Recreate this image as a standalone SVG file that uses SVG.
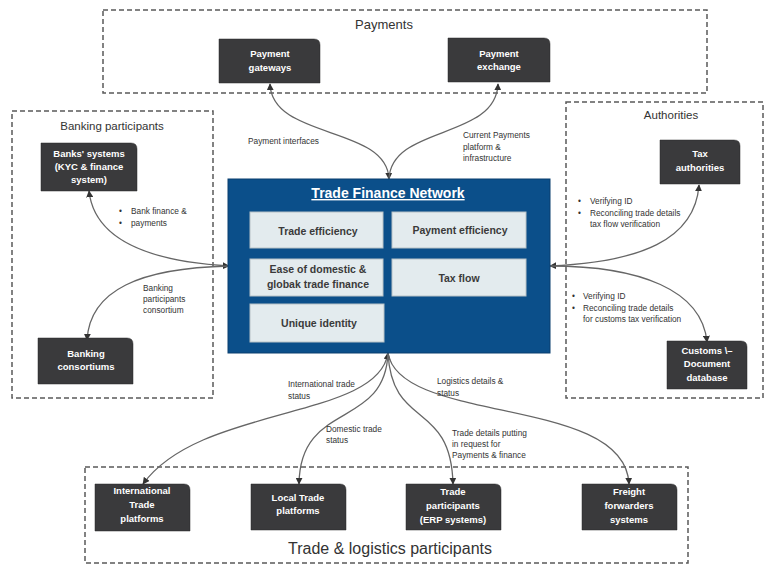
<svg xmlns="http://www.w3.org/2000/svg" width="768" height="571" viewBox="0 0 768 571">
<defs>
<style>
.grp{fill:none;stroke:#5a5a5a;stroke-width:1.5;stroke-dasharray:5,3}
.gt{font-family:"Liberation Sans",Arial,sans-serif;fill:#333;text-anchor:middle}
.node{fill:#3a3a3c;stroke:#2a2a2a;stroke-width:0.5}
.nt{font-family:"Liberation Sans",Arial,sans-serif;font-size:9.5px;font-weight:bold;fill:#fff;text-anchor:middle}
.inner{fill:#e3ebee;stroke:#b8c2c6;stroke-width:1}
.it{font-family:"Liberation Sans",Arial,sans-serif;font-size:10.5px;font-weight:bold;fill:#3a3a3a;text-anchor:middle}
.lbl{font-family:"Liberation Sans",Arial,sans-serif;font-size:8.3px;fill:#333}
.con{fill:none;stroke:#666;stroke-width:1.3}
</style>
<marker id="arr" viewBox="0 0 10 10" refX="9" refY="5" markerWidth="7" markerHeight="7" markerUnits="userSpaceOnUse" orient="auto-start-reverse">
<path d="M0,0 L10,5 L0,10 z" fill="#333"/>
</marker>
</defs>
<rect width="768" height="571" fill="#fff"/>

<g id="group-payments">
<rect class="grp" x="103" y="10" width="604" height="83"/>
<text class="gt" x="384" y="29" font-size="13">Payments</text>
</g>
<g id="group-banking">
<rect class="grp" x="12" y="111" width="201" height="287"/>
<text class="gt" x="112" y="130" font-size="11.5">Banking participants</text>
</g>
<g id="group-authorities">
<rect class="grp" x="566" y="102" width="197" height="296"/>
<text class="gt" x="671" y="119" font-size="11.5">Authorities</text>
</g>
<g id="group-trade">
<rect class="grp" x="85" y="467" width="603" height="96"/>
<text class="gt" x="390" y="554" font-size="16">Trade &amp; logistics participants</text>
</g>

<g id="connectors">
<path class="con" d="M389,179 C387,125 272,140 270,84" marker-start="url(#arr)" marker-end="url(#arr)"/>
<path class="con" d="M389,179 C391,125 496,140 498,84" marker-end="url(#arr)"/>
<path class="con" d="M229,266 C160,262 95,245 89,191" marker-start="url(#arr)" marker-end="url(#arr)"/>
<path class="con" d="M229,266 C140,268 90,290 87,340" marker-end="url(#arr)"/>
<path class="con" d="M550,266 C640,262 695,240 699,185" marker-start="url(#arr)" marker-end="url(#arr)"/>
<path class="con" d="M550,266 C640,266 702,290 707,342" marker-end="url(#arr)"/>
<path class="con" d="M388,353 C378,420 200,405 143,484" marker-start="url(#arr)" marker-end="url(#arr)"/>
<path class="con" d="M388,353 C385,430 300,400 299,484" marker-end="url(#arr)"/>
<path class="con" d="M388,353 C392,430 451,400 453,484" marker-end="url(#arr)"/>
<path class="con" d="M388,353 C400,425 625,395 629,484" marker-end="url(#arr)"/>
</g>

<g id="labels">
<text class="lbl" x="248" y="144">Payment interfaces</text>
<text class="lbl" x="463" y="138">Current Payments</text>
<text class="lbl" x="463" y="150">platform &amp;</text>
<text class="lbl" x="463" y="161">infrastructure</text>
<text class="lbl" x="119" y="214">•</text>
<text class="lbl" x="131" y="214">Bank finance &amp;</text>
<text class="lbl" x="119" y="226">•</text>
<text class="lbl" x="131" y="226">payments</text>
<text class="lbl" x="143" y="291">Banking</text>
<text class="lbl" x="143" y="302">participants</text>
<text class="lbl" x="143" y="313">consortium</text>
<text class="lbl" x="578" y="204">•</text>
<text class="lbl" x="590" y="204">Verifying ID</text>
<text class="lbl" x="578" y="216">•</text>
<text class="lbl" x="590" y="216">Reconciling trade details</text>
<text class="lbl" x="590" y="227">tax flow verification</text>
<text class="lbl" x="572" y="299">•</text>
<text class="lbl" x="583" y="299">Verifying ID</text>
<text class="lbl" x="572" y="311">•</text>
<text class="lbl" x="583" y="311">Reconciling trade details</text>
<text class="lbl" x="583" y="322">for customs tax verification</text>
<text class="lbl" x="288" y="387">International trade</text>
<text class="lbl" x="288" y="399">status</text>
<text class="lbl" x="437" y="384">Logistics details &amp;</text>
<text class="lbl" x="437" y="396">status</text>
<text class="lbl" x="326" y="432">Domestic trade</text>
<text class="lbl" x="326" y="443">status</text>
<text class="lbl" x="452" y="436">Trade details putting</text>
<text class="lbl" x="452" y="447">in request for</text>
<text class="lbl" x="452" y="458">Payments &amp; finance</text>
</g>

<g id="node-tfn">
<rect x="228" y="179" width="322" height="174" fill="#0b4f8a" stroke="#0a3f6e" stroke-width="1"/>
<text x="388" y="198" font-family="Liberation Sans,Arial,sans-serif" font-size="14" font-weight="bold" fill="#fff" text-anchor="middle" text-decoration="underline">Trade Finance Network</text>
</g>
<g id="node-trade-efficiency">
<rect class="inner" x="250" y="212" width="133" height="36"/>
<text class="it" x="318" y="235">Trade efficiency</text>
</g>
<g id="node-payment-efficiency">
<rect class="inner" x="392" y="212" width="134" height="36"/>
<text class="it" x="460" y="234">Payment efficiency</text>
</g>
<g id="node-ease">
<rect class="inner" x="250" y="259" width="133" height="37"/>
<text class="it" x="318" y="273">Ease of domestic &amp;</text>
<text class="it" x="318" y="288">globak trade finance</text>
</g>
<g id="node-tax-flow">
<rect class="inner" x="392" y="259" width="134" height="37"/>
<text class="it" x="459" y="282">Tax flow</text>
</g>
<g id="node-unique-identity">
<rect class="inner" x="250" y="304" width="134" height="38"/>
<text class="it" x="319" y="327">Unique identity</text>
</g>

<g id="node-payment-gateways">
<path class="node" d="M219,39 H314 Q320,39 320,45 V83 H219 Z"/>
<text class="nt" x="270" y="57">Payment</text>
<text class="nt" x="270" y="71">gateways</text>
</g>
<g id="node-payment-exchange">
<path class="node" d="M448,38 H544 Q550,38 550,44 V82 H448 Z"/>
<text class="nt" x="499" y="57">Payment</text>
<text class="nt" x="499" y="70">exchange</text>
</g>
<g id="node-banks-systems">
<path class="node" d="M41,143 H131 Q137,143 137,149 V191 H41 Z"/>
<text class="nt" x="89" y="157">Banks' systems</text>
<text class="nt" x="89" y="170">(KYC &amp; finance</text>
<text class="nt" x="89" y="183">system)</text>
</g>
<g id="node-banking-consortiums">
<path class="node" d="M38,338 H127 Q133,338 133,344 V384 H38 Z"/>
<text class="nt" x="86" y="357">Banking</text>
<text class="nt" x="86" y="370">consortiums</text>
</g>
<g id="node-tax-authorities">
<path class="node" d="M660,140 H734 Q740,140 740,146 V184 H660 Z"/>
<text class="nt" x="700" y="157">Tax</text>
<text class="nt" x="700" y="171">authorities</text>
</g>
<g id="node-customs">
<path class="node" d="M667,341 H741 Q747,341 747,347 V389 H667 Z"/>
<text class="nt" x="707" y="354">Customs \–</text>
<text class="nt" x="707" y="367">Document</text>
<text class="nt" x="707" y="381">database</text>
</g>
<g id="node-international-trade">
<path class="node" d="M95,484 H184 Q190,484 190,490 V531 H95 Z"/>
<text class="nt" x="142" y="494">International</text>
<text class="nt" x="142" y="508">Trade</text>
<text class="nt" x="142" y="522">platforms</text>
</g>
<g id="node-local-trade">
<path class="node" d="M251,484 H340 Q346,484 346,490 V530 H251 Z"/>
<text class="nt" x="298" y="501">Local Trade</text>
<text class="nt" x="298" y="514">platforms</text>
</g>
<g id="node-trade-participants">
<path class="node" d="M406,484 H495 Q501,484 501,490 V530 H406 Z"/>
<text class="nt" x="453" y="495">Trade</text>
<text class="nt" x="453" y="509">participants</text>
<text class="nt" x="453" y="523">(ERP systems)</text>
</g>
<g id="node-freight">
<path class="node" d="M582,484 H671 Q677,484 677,490 V530 H582 Z"/>
<text class="nt" x="629" y="495">Freight</text>
<text class="nt" x="629" y="509">forwarders</text>
<text class="nt" x="629" y="523">systems</text>
</g>
</svg>
